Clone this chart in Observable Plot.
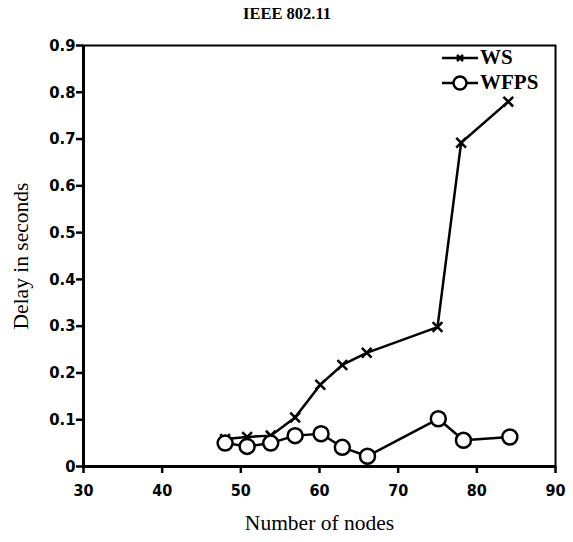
<!DOCTYPE html>
<html><head><meta charset="utf-8">
<script src="https://cdn.jsdelivr.net/npm/d3@7"></script>
<script src="https://cdn.jsdelivr.net/npm/@observablehq/plot@0.6"></script>
<style>
body{margin:0;background:#fff;}
#wrap{position:relative;width:573px;height:542px;font-family:"Liberation Serif","Times New Roman",serif;}
#legend{position:absolute;left:442px;top:45px;font-weight:bold;font-size:21px;line-height:25px;}
#legend div{display:flex;align-items:center;height:25px;}
#legend svg{margin-right:2px;}
</style>
</head><body>
<div id="wrap"><div id="legend"></div></div>
<script>
const title = "IEEE 802.11";
const xLabel = "Number of nodes";
const yLabel = "Delay in seconds";
const xTicks = [30, 40, 50, 60, 70, 80, 90];
const yTicks = [0, 0.1, 0.2, 0.3, 0.4, 0.5, 0.6, 0.7, 0.8, 0.9];
const wsNodes = [48, 50.8, 53.8, 56.9, 60.1, 62.9, 66, 75, 78, 84];
const wsDelay = [0.059, 0.063, 0.066, 0.105, 0.175, 0.217, 0.243, 0.298, 0.692, 0.780];
const wfpsNodes = [48, 50.8, 53.8, 56.9, 60.2, 62.9, 66.1, 75.1, 78.3, 84.2];
const wfpsDelay = [0.050, 0.043, 0.050, 0.066, 0.070, 0.041, 0.022, 0.102, 0.056, 0.063];

const ws = wsNodes.map((x, i) => ({x, y: wsDelay[i]}));
const wfps = wfpsNodes.map((x, i) => ({x, y: wfpsDelay[i]}));
const tickFont = '"DejaVu Sans Condensed","DejaVu Sans",sans-serif';

const plot = Plot.plot({
  width: 573, height: 542,
  marginLeft: 83, marginRight: 18, marginTop: 45, marginBottom: 76,
  style: {fontFamily: '"Liberation Serif","Times New Roman",serif', background: "#fff", color: "#000", overflow: "visible"},
  x: {domain: [30, 90]},
  y: {domain: [0, 0.9]},
  marks: [
    Plot.frame({stroke: "#000", strokeWidth: 2}),
    Plot.ruleX([30], {stroke: "#000", strokeWidth: 3}),
    Plot.ruleY([0], {stroke: "#000", strokeWidth: 3}),
    Plot.axisX({ticks: xTicks, tickSize: 7, tickPadding: 11, tickFormat: d => String(d), fontSize: 16, fontWeight: "bold", fontFamily: tickFont, strokeWidth: 2.5, label: null}),
    Plot.axisY({ticks: yTicks, tickSize: 7, tickPadding: 1, tickFormat: d => d === 0 ? "0" : d.toFixed(1), fontSize: 16.5, fontWeight: "bold", fontFamily: tickFont, strokeWidth: 2.5, label: null}),
    Plot.text([xLabel], {frameAnchor: "bottom", dy: 63, fontSize: 21.5, fill: "#000"}),
    Plot.text([yLabel], {frameAnchor: "left", textAnchor: "middle", dx: -62, rotate: -90, fontSize: 21.5, fill: "#000"}),
    Plot.text([title], {frameAnchor: "top", dx: -32.5, dy: -38, fontSize: 16.5, fontWeight: "bold", fill: "#000"}),
    Plot.line(ws, {x: "x", y: "y", stroke: "#000", strokeWidth: 2.5}),
    Plot.dot(ws, {x: "x", y: "y", symbol: "times", r: 4.5, stroke: "#000", strokeWidth: 2.5}),
    Plot.line(wfps, {x: "x", y: "y", stroke: "#000", strokeWidth: 2.5}),
    Plot.dot(wfps, {x: "x", y: "y", symbol: "circle", r: 7.5, fill: "#fff", stroke: "#000", strokeWidth: 2.5})
  ]
});
document.getElementById("wrap").prepend(plot);

const legend = document.getElementById("legend");
const items = [
  {name: "WS", mk: '<path d="M-3,-3L3,3M-3,3L3,-3" stroke="#000" stroke-width="2.5"/>'},
  {name: "WFPS", mk: '<circle r="6.5" fill="#fff" stroke="#000" stroke-width="2.5"/>'}
];
for (const it of items) {
  const d = document.createElement("div");
  d.innerHTML = `<svg width="36" height="20" viewBox="-18 -10 36 20"><line x1="-18" x2="18" stroke="#000" stroke-width="2.5"/>${it.mk}</svg><span>${it.name}</span>`;
  legend.appendChild(d);
}
</script>
</body></html>
